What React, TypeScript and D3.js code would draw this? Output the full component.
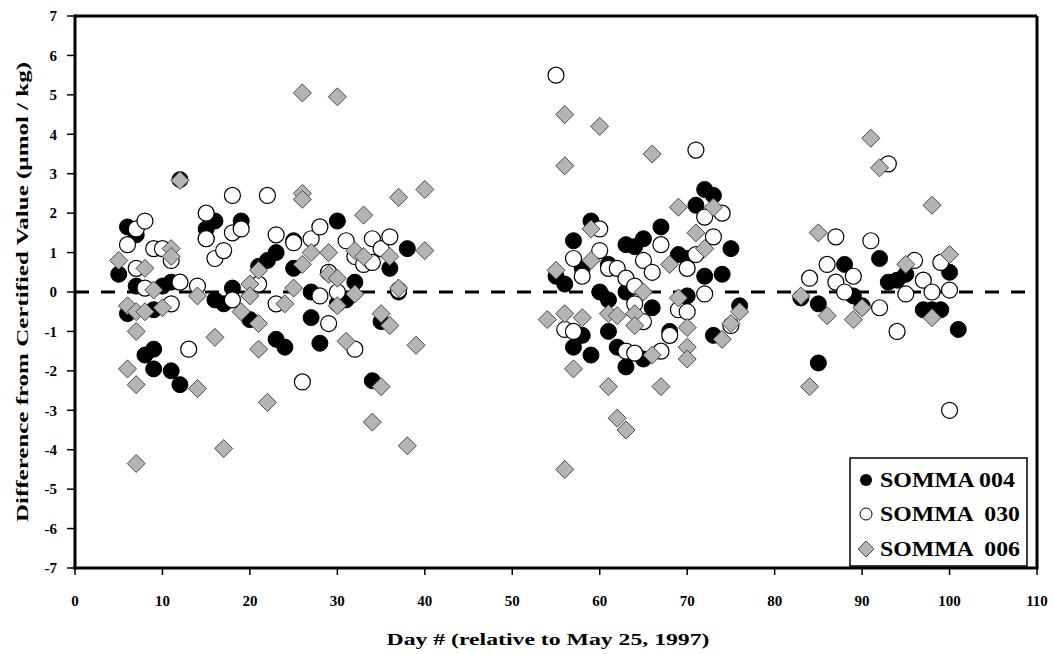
import React from "react";
import * as d3 from "d3";

const xTicks = [0, 10, 20, 30, 40, 50, 60, 70, 80, 90, 100, 110];
const yTicks = [-7, -6, -5, -4, -3, -2, -1, 0, 1, 2, 3, 4, 5, 6, 7];

const xTitle = "Day # (relative to May 25, 1997)";
const yTitle = "Difference from Certified Value (\u00b5mol / kg)";

const legendLabels = ["SOMMA 004", "SOMMA  030", "SOMMA  006"];

// SOMMA 004 (filled black circles): [day, difference]
const somma004: [number, number][] = [
  [5, 0.45], [6, 1.65], [6, -0.55], [7, 1.45], [7, 0.15], [8, -1.6], [9, -0.45], [9, -1.45], [9, -1.95],
  [10, 0.15], [11, 0.25], [11, -2.0], [12, 2.85], [12, -2.35], [15, 1.6], [15, 1.35], [16, 1.8], [16, -0.2],
  [17, -0.3], [18, 0.1], [19, 1.8], [20, -0.7], [21, 0.65], [22, 0.8], [23, 1.0], [23, -1.2], [24, -1.4],
  [25, 1.3], [25, 0.6], [27, 0.0], [27, -0.65], [28, -1.3], [29, 0.5], [30, 1.8], [30, -0.3], [31, -0.2],
  [32, 0.25], [34, -2.25], [35, -0.75], [36, 0.6], [37, 0.0], [38, 1.1],
  [55, 0.4], [56, 0.2], [57, 1.3], [57, -1.4], [58, 0.6], [58, -1.1], [59, 1.8], [59, -1.6], [60, 0.0],
  [61, 0.7], [61, -0.2], [61, -1.0], [62, -1.4], [63, 1.2], [63, 0.0], [63, -1.9], [64, 1.15], [65, 1.35],
  [65, -1.7], [66, -0.4], [67, 1.65], [68, -1.0], [69, 0.95], [70, 0.85], [70, -0.1], [71, 2.2], [72, 2.6],
  [72, 0.4], [73, 2.45], [73, -1.1], [74, 0.45], [75, 1.1], [76, -0.35],
  [83, -0.15], [85, -0.3], [85, -1.8], [88, 0.7], [89, -0.1], [90, -0.35], [92, 0.85], [93, 0.25], [94, 0.3],
  [95, 0.45], [97, -0.45], [98, -0.45], [99, -0.45], [100, 0.5], [101, -0.95],
];

// SOMMA 030 (open circles)
const somma030: [number, number][] = [
  [6, 1.2], [7, 1.6], [7, 0.6], [8, 1.8], [8, 0.1], [9, 1.1], [10, 1.1], [11, 0.8], [11, -0.3], [12, 0.25],
  [13, -1.45], [14, 0.15], [15, 2.0], [15, 1.35], [16, 0.85], [17, 1.05], [18, 2.45], [18, 1.5], [18, -0.2],
  [19, 1.6], [21, 0.2], [22, 2.45], [23, 1.45], [23, -0.3], [25, 1.25], [26, -2.28], [27, 1.35], [28, 1.65],
  [28, -0.1], [29, 0.5], [29, -0.8], [30, 0.0], [31, 1.3], [32, 0.9], [32, -1.45], [33, 0.7], [34, 1.35],
  [34, 0.75], [35, 1.1], [36, 1.4], [37, 0.05],
  [55, 5.5], [56, -0.95], [57, 0.85], [57, -1.0], [58, 0.4], [60, 1.6], [60, 1.05], [61, 0.6], [62, 0.6],
  [63, 0.35], [63, -1.5], [64, 0.15], [64, -0.3], [64, -1.55], [65, 0.8], [65, -0.75], [66, 0.5], [67, 1.2],
  [67, -1.5], [68, -1.1], [69, -0.45], [70, 0.6], [70, -0.5], [71, 3.6], [71, 0.95], [72, 1.9], [72, -0.05],
  [73, 1.4], [74, 2.0], [75, -0.85],
  [84, 0.35], [86, 0.7], [87, 1.4], [87, 0.25], [88, 0.0], [89, 0.4], [91, 1.3], [92, -0.4], [93, 3.25],
  [94, -1.0], [95, -0.05], [96, 0.8], [97, 0.3], [98, 0.0], [99, 0.75], [100, 0.05], [100, -3.0],
];

// SOMMA 006 (gray diamonds)
const somma006: [number, number][] = [
  [5, 0.8], [6, -0.35], [6, -1.95], [7, -0.5], [7, -1.0], [7, -2.35], [7, -4.35], [8, 0.6], [8, -0.5],
  [9, 0.05], [10, -0.4], [11, 1.1], [11, 0.9], [12, 2.83], [14, -0.1], [14, -2.45], [16, -1.15], [17, -3.97],
  [19, -0.5], [20, 0.2], [20, -0.1], [21, 0.55], [21, -0.8], [21, -1.45], [22, -2.8], [24, -0.3], [25, 0.1],
  [26, 5.05], [26, 2.5], [26, 2.35], [26, 0.7], [27, 1.0], [29, 1.0], [29, 0.45], [30, 4.95], [30, 0.35],
  [30, -0.35], [31, -1.25], [32, 1.05], [32, -0.05], [33, 1.95], [33, 0.9], [34, -3.3], [35, -0.55],
  [35, -2.4], [36, 0.9], [36, -0.85], [37, 2.4], [37, 0.1], [38, -3.9], [39, -1.35], [40, 2.6], [40, 1.05],
  [54, -0.7], [55, 0.55], [56, 4.5], [56, 3.2], [56, -0.55], [56, -4.5], [57, -1.95], [58, -0.65], [59, 1.6],
  [59, 0.8], [60, 4.2], [61, -0.55], [61, -2.4], [62, -0.6], [62, -3.2], [63, -3.5], [64, -0.55], [64, -0.85],
  [65, 0.0], [66, 3.5], [66, -1.6], [67, -2.4], [68, 0.7], [69, 2.15], [69, -0.15], [70, -0.9], [70, -1.4],
  [70, -1.7], [71, 1.5], [72, 1.1], [73, 2.15], [74, -1.2], [75, -0.8], [76, -0.5],
  [83, -0.1], [84, -2.4], [85, 1.5], [86, -0.6], [89, -0.7], [90, -0.4], [91, 3.9], [92, 3.15], [95, 0.7],
  [98, 2.2], [98, -0.65], [100, 0.95],
];

const W = 1053;
const H = 654;
const M = { left: 75, right: 1037, top: 16, bottom: 568 };

const SERIF = "'Liberation Serif', 'Times New Roman', serif";

export default function App() {
  const x = d3.scaleLinear().domain([0, 110]).range([M.left, M.right]);
  const y = d3.scaleLinear().domain([-7, 7]).range([M.bottom, M.top]);
  const diamond = (cx: number, cy: number, r: number) =>
    `M${cx},${cy - r}L${cx + r},${cy}L${cx},${cy + r}L${cx - r},${cy}Z`;

  const lx = 850, ly = 458, lw = 177, lh = 108;
  const rows = [480, 514, 549];

  return (
    <svg
      width={W}
      height={H}
      style={{ position: "absolute", left: 0, top: 0, display: "block", background: "#fff" }}
    >
      <rect x={0} y={0} width={W} height={H} fill="#fff" />
      {/* zero line */}
      <line
        x1={M.left}
        x2={M.right}
        y1={y(0)}
        y2={y(0)}
        stroke="#000"
        strokeWidth={3}
        strokeDasharray="14 12"
      />
      {/* points */}
      <g>
        {somma004.map(([d, v], i) => (
          <circle key={"a" + i} cx={x(d)} cy={y(v)} r={8} fill="#000" stroke="#000" strokeWidth={1} />
        ))}
      </g>
      <g>
        {somma030.map(([d, v], i) => (
          <circle key={"b" + i} cx={x(d)} cy={y(v)} r={8} fill="#fff" stroke="#000" strokeWidth={1.2} />
        ))}
      </g>
      <g>
        {somma006.map(([d, v], i) => (
          <path key={"c" + i} d={diamond(x(d), y(v), 9)} fill="#b4b4b4" stroke="#4a4a4a" strokeWidth={1} />
        ))}
      </g>
      {/* frame */}
      <line x1={M.left} x2={M.right} y1={M.top} y2={M.top} stroke="#000" strokeWidth={3} />
      <line x1={M.right} x2={M.right} y1={M.top} y2={M.bottom} stroke="#000" strokeWidth={3} />
      <line x1={M.left} x2={M.left} y1={M.top - 1.5} y2={M.bottom + 1.5} stroke="#000" strokeWidth={3} />
      <line x1={M.left - 1.5} x2={M.right + 1.5} y1={M.bottom} y2={M.bottom} stroke="#000" strokeWidth={3} />
      {/* y ticks */}
      {yTicks.map((t) => (
        <g key={"yt" + t}>
          <line x1={M.left - 8} x2={M.left} y1={y(t)} y2={y(t)} stroke="#000" strokeWidth={1.5} />
          <text
            x={57}
            y={y(t)}
            dy="0.35em"
            textAnchor="end"
            fontFamily={SERIF}
            fontWeight="bold"
            fontSize={15}
          >
            {t}
          </text>
        </g>
      ))}
      {/* x ticks */}
      {xTicks.map((t) => (
        <g key={"xt" + t}>
          <line x1={x(t)} x2={x(t)} y1={M.bottom} y2={M.bottom + 7} stroke="#000" strokeWidth={1.5} />
          <text
            x={x(t)}
            y={601}
            dy="0.35em"
            textAnchor="middle"
            fontFamily={SERIF}
            fontWeight="bold"
            fontSize={15}
          >
            {t}
          </text>
        </g>
      ))}
      {/* axis titles */}
      <text
        x={548}
        y={645}
        textAnchor="middle"
        fontFamily={SERIF}
        fontWeight="bold"
        fontSize={17}
        textLength={323}
        lengthAdjust="spacingAndGlyphs"
      >
        {xTitle}
      </text>
      <text
        transform={`translate(28,${(M.top + M.bottom) / 2}) rotate(-90)`}
        textAnchor="middle"
        fontFamily={SERIF}
        fontWeight="bold"
        fontSize={17}
        textLength={460}
        lengthAdjust="spacingAndGlyphs"
      >
        {yTitle}
      </text>
      {/* legend */}
      <rect x={lx} y={ly} width={lw} height={lh} fill="#fff" stroke="#000" strokeWidth={1.5} />
      <circle cx={866} cy={rows[0]} r={6} fill="#000" />
      <circle cx={866} cy={rows[1]} r={6} fill="#fff" stroke="#000" strokeWidth={1} />
      <path d={diamond(866, rows[2], 8)} fill="#b4b4b4" stroke="#4a4a4a" strokeWidth={1} />
      {legendLabels.map((s, i) => (
        <text
          key={s}
          x={880}
          y={rows[i]}
          dy="0.35em"
          fontFamily={SERIF}
          fontWeight="bold"
          fontSize={20}
          style={{ whiteSpace: "pre" }}
          textLength={i === 0 ? 135 : 140}
          lengthAdjust="spacingAndGlyphs"
        >
          {s}
        </text>
      ))}
    </svg>
  );
}
